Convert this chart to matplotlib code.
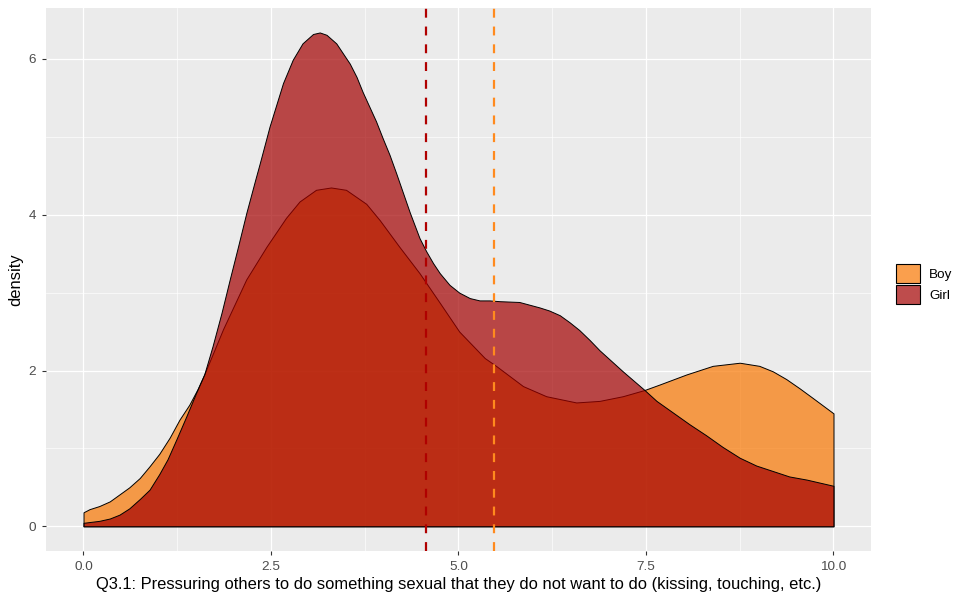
import matplotlib
matplotlib.use("Agg")
from matplotlib import pyplot as plt
from matplotlib.patches import Patch
from matplotlib.ticker import MultipleLocator

plt.rcParams['font.family'] = ['Liberation Sans', 'DejaVu Sans']

# density curves
girl_x = [0.00, 0.21, 0.35, 0.48, 0.61, 0.75, 0.88, 1.01, 1.12, 1.24, 1.37, 1.50,
          1.61, 1.72, 1.84, 1.95, 2.06, 2.17, 2.29, 2.35, 2.48, 2.66, 2.79, 2.92,
          3.06, 3.15, 3.24, 3.37, 3.46, 3.55, 3.64, 3.72, 3.81, 3.90, 3.99, 4.08,
          4.17, 4.26, 4.35, 4.48, 4.57, 4.66, 4.75, 4.88, 5.01, 5.15, 5.28, 5.41,
          5.55, 5.81, 6.08, 6.21, 6.35, 6.48, 6.61, 6.75, 6.88, 7.19, 7.48, 7.64,
          7.86, 8.08, 8.30, 8.52, 8.75, 8.97, 9.19, 9.41, 9.64, 10.00]
girl_d = [0.045, 0.07, 0.10, 0.15, 0.23, 0.35, 0.47, 0.67, 0.86, 1.12, 1.41, 1.71,
          1.95, 2.31, 2.74, 3.17, 3.59, 4.02, 4.45, 4.66, 5.13, 5.69, 5.99, 6.20,
          6.32, 6.34, 6.31, 6.20, 6.07, 5.94, 5.77, 5.58, 5.39, 5.20, 4.98, 4.77,
          4.53, 4.28, 4.03, 3.70, 3.53, 3.38, 3.25, 3.10, 3.00, 2.93, 2.90, 2.90,
          2.89, 2.88, 2.81, 2.77, 2.71, 2.62, 2.52, 2.39, 2.26, 1.99, 1.75, 1.61,
          1.46, 1.31, 1.17, 1.02, 0.88, 0.78, 0.71, 0.64, 0.60, 0.52]

boy_x = [0.00, 0.08, 0.21, 0.35, 0.48, 0.61, 0.75, 0.88, 1.01, 1.15, 1.28, 1.41,
         1.52, 1.61, 1.86, 2.17, 2.44, 2.70, 2.88, 3.10, 3.30, 3.50, 3.77, 3.95,
         4.21, 4.48, 4.75, 5.01, 5.35, 5.50, 5.86, 6.17, 6.57, 6.88, 7.19, 7.48,
         7.68, 8.04, 8.39, 8.75, 9.01, 9.19, 9.37, 9.55, 9.72, 10.00]
boy_d = [0.18, 0.22, 0.26, 0.32, 0.41, 0.50, 0.62, 0.77, 0.93, 1.14, 1.37, 1.56,
         1.76, 1.95, 2.53, 3.17, 3.59, 3.96, 4.17, 4.32, 4.35, 4.32, 4.14, 3.93,
         3.59, 3.25, 2.87, 2.50, 2.16, 2.06, 1.80, 1.67, 1.59, 1.61, 1.67, 1.75,
         1.82, 1.95, 2.06, 2.10, 2.06, 1.99, 1.89, 1.77, 1.65, 1.45]

groups = ['Boy', 'Girl']
group_means = [5.467, 4.573]
fill_colors = ['#F97702', '#A30000']
mean_colors = ['#FF8A1E', '#B00000']
alpha = 0.7

fig = plt.figure(figsize=(9.54, 5.99), dpi=100)
ax = fig.add_axes([46 / 954, 1 - 551 / 599, (871 - 46) / 954, (551 - 8) / 599])
ax.set_facecolor('#EBEBEB')
for s in ax.spines.values():
    s.set_visible(False)

curves = [(boy_x, boy_d), (girl_x, girl_d)]
for i, (xs, ds) in enumerate(curves):
    ax.fill_between(xs, 0, ds, facecolor=matplotlib.colors.to_rgba(fill_colors[i], alpha),
                    edgecolor='black', linewidth=0.7, zorder=2 + i)

for i, m in enumerate(group_means):
    ax.axvline(m, color=mean_colors[i], linewidth=1.6, dashes=(4, 4), zorder=5)

ax.set_xlim(-0.5, 10.5)
ax.set_ylim(-0.317, 6.654)
ax.xaxis.set_minor_locator(MultipleLocator(1.25))
ax.yaxis.set_minor_locator(MultipleLocator(1))
ax.set_xticks([0, 2.5, 5, 7.5, 10])
ax.set_xticklabels(['0.0', '2.5', '5.0', '7.5', '10.0'])
ax.set_yticks([0, 2, 4, 6])
ax.set_yticklabels(['0', '2', '4', '6'])
ax.grid(which='major', color='white', linewidth=0.9, zorder=0)
ax.grid(which='minor', color='white', linewidth=0.45, zorder=0)
ax.set_axisbelow(True)
ax.tick_params(which='major', length=3, width=0.8, color='#333333',
               labelsize=9.7, labelcolor='#4D4D4D', pad=4)
ax.tick_params(which='minor', length=0)

ax.set_xlabel('Q3.1: Pressuring others to do something sexual that they do not want to do (kissing, touching, etc.)',
              fontsize=11.85, labelpad=3)
ax.set_ylabel('density', fontsize=11.85, labelpad=4)

handles = [Patch(facecolor=matplotlib.colors.to_rgba(fill_colors[i], alpha),
                 edgecolor='black', linewidth=0.8) for i in range(2)]
fig.legend(handles, groups, loc='center left', bbox_to_anchor=(896 / 954, 1 - 284 / 599),
           frameon=False, fontsize=9.7, handlelength=1.75, handleheight=1.75,
           handletextpad=0.7, labelspacing=0.15, borderpad=0, borderaxespad=0)

fig.savefig('out.png', dpi=100)
